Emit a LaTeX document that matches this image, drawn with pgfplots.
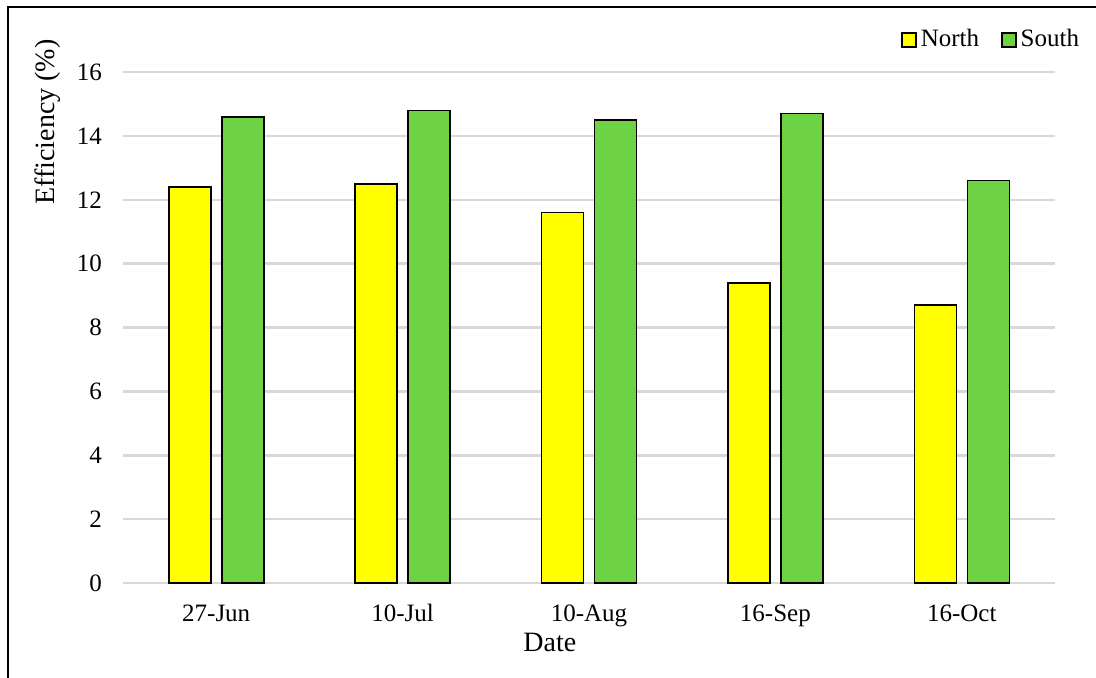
\documentclass[border=0pt]{standalone}
\usepackage{fontspec}
\setmainfont{Liberation Serif}
\usepackage{pgfplots}
\pgfplotsset{compat=1.18}
\definecolor{northc}{HTML}{FFFF00}
\definecolor{southc}{HTML}{6DD344}
\definecolor{gridc}{HTML}{D9D9D9}
\begin{document}
\begin{tikzpicture}
\path[use as bounding box] (0,0) rectangle (548pt,338.5pt);
\draw[line width=1pt] (4pt,-10pt) -- (4pt,335pt) -- (560pt,335pt);
\begin{axis}[
  at={(61.5pt,47pt)}, anchor=south west,
  scale only axis, width=466pt, height=255.5pt,
  xmin=-0.5, xmax=4.5, ymin=0, ymax=16,
  ytick={0,2,...,16},
  xtick={0,1,2,3,4},
  xticklabels={27-Jun,10-Jul,10-Aug,16-Sep,16-Oct},
  axis line style={draw=none},
  major tick length=0pt,
  ymajorgrids, grid style={gridc, line width=1.25pt},
  /pgf/number format/assume math mode=true,
  tick label style={font=\fontsize{12.5}{14}\selectfont},
  yticklabel style={xshift=-7pt},
  xticklabel style={anchor=base, yshift=-19pt},
  ylabel={Efficiency (\%)},
  xlabel={Date},
  every axis y label/.style={at={(axis description cs:-0.0805,0.902)}, rotate=90, anchor=center, font=\fontsize{14}{16}\selectfont},
  every axis x label/.style={at={(axis description cs:0.458,-0.117)}, anchor=center, font=\fontsize{14}{16}\selectfont},
  ybar, bar width=21pt,
  legend columns=2,
  legend style={draw=none, fill=none, at={(axis description cs:1.037,1.063)}, anchor=east,
    font=\fontsize{12.5}{14}\selectfont,
    /tikz/every even column/.append style={column sep=9pt}},
  legend image code/.code={\draw[#1] (0pt,-3.5pt) rectangle (7pt,3.5pt);},
]
\addplot[draw=black, line width=0.8pt, fill=northc, bar shift=-13.25pt] coordinates {(0,12.4) (1,12.5) (2,11.6) (3,9.4) (4,8.7)};
\addlegendentry{North}
\addplot[draw=black, line width=0.8pt, fill=southc, bar shift=13.25pt] coordinates {(0,14.6) (1,14.8) (2,14.5) (3,14.7) (4,12.6)};
\addlegendentry{South}
\end{axis}
\end{tikzpicture}
\end{document}
